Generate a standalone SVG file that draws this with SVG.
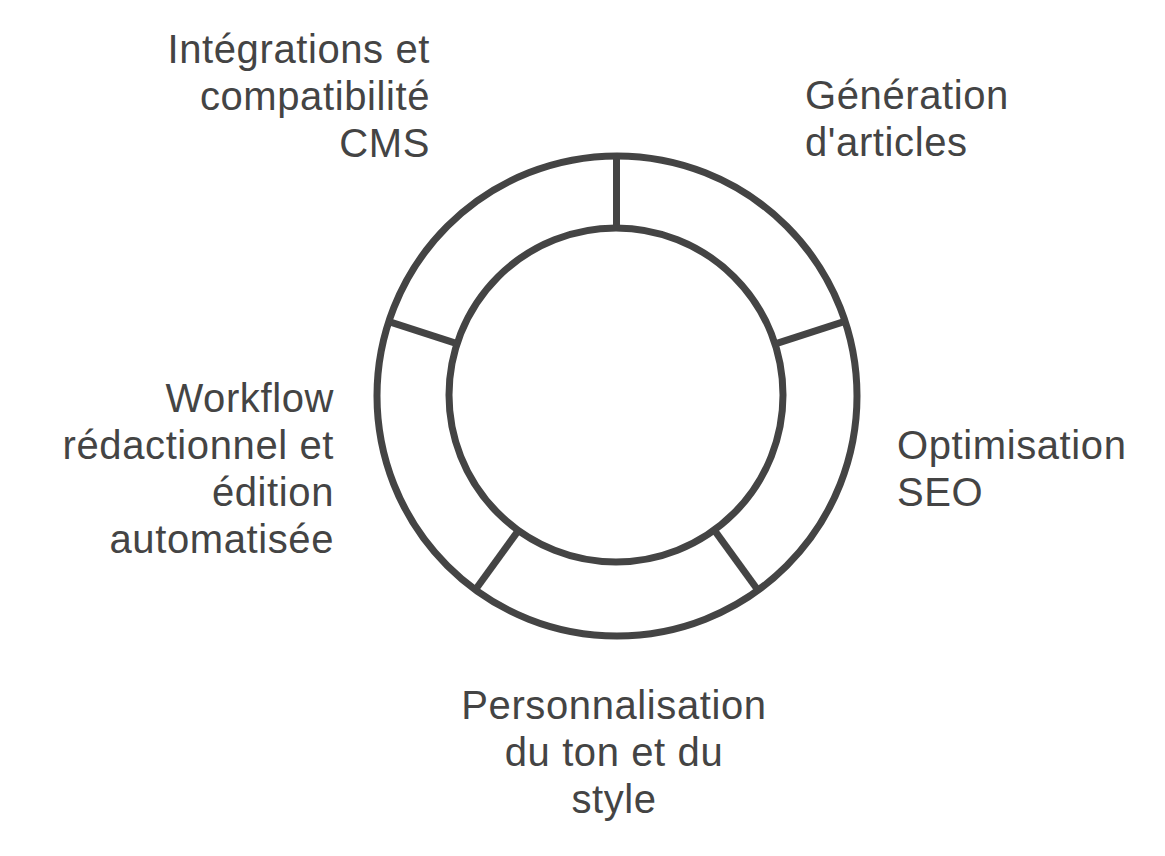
<svg xmlns="http://www.w3.org/2000/svg" width="1165" height="856" viewBox="0 0 1165 856">
<style>
.ring{fill:none;stroke:#444;stroke-width:7}
.div{stroke:#444;stroke-width:7;stroke-linecap:butt}
.lbl{font-family:"Liberation Sans",Arial,sans-serif;font-size:40px;letter-spacing:0.6px;fill:#444}
.r{text-anchor:end}
.l{text-anchor:start}
.c{text-anchor:middle}
</style>
<rect width="1165" height="856" fill="#fff"/>
<g id="ring">
<circle class="ring" cx="617" cy="396" r="240"/>
<circle class="ring" cx="616" cy="395" r="167"/>
</g>
<g id="connectors">
<line class="div" x1="616.5" y1="228.5" x2="616.5" y2="156"/>
<line class="div" x1="775.3" y1="343.9" x2="844.8" y2="321.3"/>
<line class="div" x1="714.7" y1="530.6" x2="757.6" y2="589.7"/>
<line class="div" x1="518.3" y1="530.6" x2="475.4" y2="589.7"/>
<line class="div" x1="457.7" y1="343.9" x2="388.2" y2="321.3"/>
</g>
<g id="node-generation">
<text class="lbl l" x="805" y="109">Génération</text>
<text class="lbl l" x="805" y="156">d'articles</text>
</g>
<g id="node-seo">
<text class="lbl l" x="897" y="459">Optimisation</text>
<text class="lbl l" x="897" y="506">SEO</text>
</g>
<g id="node-style">
<text class="lbl c" x="614" y="719">Personnalisation</text>
<text class="lbl c" x="614" y="766">du ton et du</text>
<text class="lbl c" x="614" y="813">style</text>
</g>
<g id="node-workflow">
<text class="lbl r" x="334" y="412">Workflow</text>
<text class="lbl r" x="334" y="459">rédactionnel et</text>
<text class="lbl r" x="334" y="506">édition</text>
<text class="lbl r" x="334" y="553">automatisée</text>
</g>
<g id="node-cms">
<text class="lbl r" x="430" y="63">Intégrations et</text>
<text class="lbl r" x="430" y="110">compatibilité</text>
<text class="lbl r" x="430" y="157">CMS</text>
</g>
</svg>
